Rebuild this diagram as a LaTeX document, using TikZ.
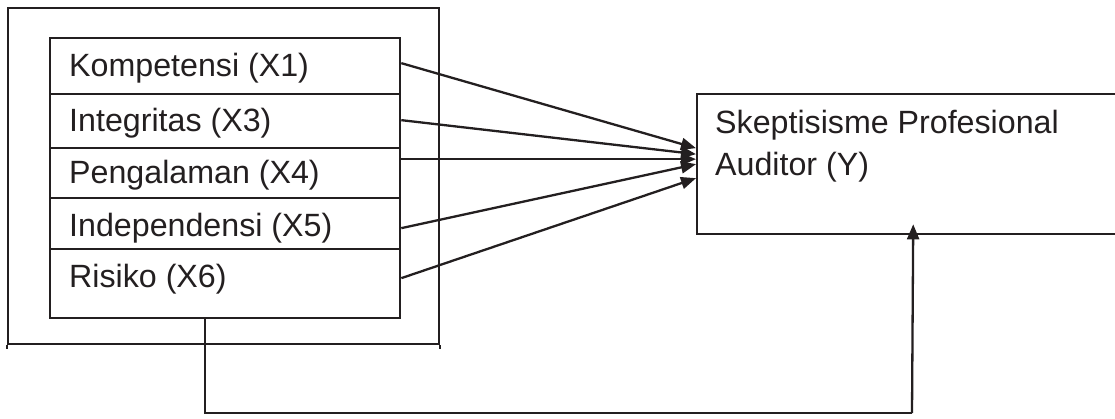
\documentclass[tikz,border=0pt]{standalone}
\usepackage{fontspec}
\setmainfont{Liberation Sans}
\usetikzlibrary{arrows.meta}
\definecolor{ink}{RGB}{35,31,32}
\begin{document}
\begin{tikzpicture}[x=1pt,y=-1pt,
  box/.style={draw=ink, line width=2.3pt, rectangle, inner sep=0pt, anchor=north west},
  lbl/.style={text=ink, inner sep=0pt, anchor=base west, font=\fontsize{32.2}{43}\selectfont},
  conn/.style={draw=ink, line width=2.3pt},
  arr/.style={conn, -{Triangle[length=15pt,width=12pt]}}]
\useasboundingbox (0,0) rectangle (1115,418);
\clip (0,0) rectangle (1115,418);
% outer frame
\node[box, minimum width=431pt, minimum height=336pt] (outer) at (7,7) {};
\draw[conn] (outer.south west) -- ++(0,4);
\draw[conn] (outer.south east) -- ++(0,4);
% inner rows
\node[box, minimum width=350pt, minimum height=56pt] (r1) at (49,37) {};
\node[box, minimum width=350pt, minimum height=54pt] (r2) at (49,93) {};
\node[box, minimum width=350pt, minimum height=50pt] (r3) at (49,147) {};
\node[box, minimum width=350pt, minimum height=51pt] (r4) at (49,197) {};
\node[box, minimum width=350pt, minimum height=69pt] (r5) at (49,248) {};
\node[lbl] (t1) at (69,76) {Kompetensi (X1)};
\node[lbl] (t2) at (69,131) {Integritas (X3)};
\node[lbl] (t3) at (69,183) {Pengalaman (X4)};
\node[lbl] (t4) at (69,236) {Independensi (X5)};
\node[lbl] (t5) at (69,287) {Risiko (X6)};
% dependent variable box (right edge runs off the picture)
\node[box, minimum width=432pt, minimum height=140pt] (Y) at (696,93) {};
\node[lbl] (y1) at (715,133) {Skeptisisme Profesional};
\node[lbl] (y2) at (715,175) {Auditor (Y)};
% arrows
\draw[arr] ([yshift=3pt]r1.east) -- ([yshift=16pt]Y.west);
\draw[arr] ([yshift=1pt]r2.east) -- ([yshift=10pt]Y.west);
\draw[arr] ([yshift=14pt]r3.east) -- ([yshift=5pt]Y.west);
\draw[arr] ([yshift=-4.5pt]r4.east) -- ([yshift=0pt]Y.west);
\draw[arr] ([yshift=5.5pt]r5.east) -- ([yshift=-14pt]Y.west);
% bottom feedback connector
\coordinate (c) at (912,413);
\draw[conn] ([xshift=-20pt]r5.south) |- (c);
\draw[arr, shorten >=-11pt] (c) -- (Y.south);
\end{tikzpicture}
\end{document}
